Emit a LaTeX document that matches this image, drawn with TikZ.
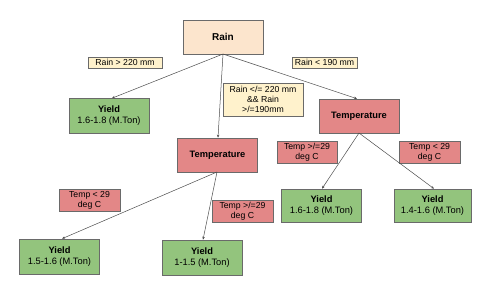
\documentclass[tikz,border=0pt]{standalone}
\usepackage{fontspec}
\setmainfont{Liberation Sans}
\usetikzlibrary{arrows.meta}
\definecolor{peach}{HTML}{FCE5CD}
\definecolor{leaf}{HTML}{93C47D}
\definecolor{rose}{HTML}{E38787}
\definecolor{note}{HTML}{FFF2CC}
\definecolor{edge}{HTML}{6A6A6A}
\begin{document}
\begin{tikzpicture}[x=1pt,y=-1pt,
  box/.style={draw=edge, line width=0.6pt, inner sep=0pt, align=center, font=\fontsize{9.3}{11}\selectfont},
  rootbox/.style={box, fill=peach, minimum width=80pt, minimum height=34pt, font=\bfseries\fontsize{10}{12}\selectfont},
  tempbox/.style={box, fill=rose, minimum width=80pt, minimum height=34pt, font=\bfseries\fontsize{9.3}{11}\selectfont},
  yieldbox/.style={box, fill=leaf, minimum width=80pt, minimum height=35pt},
  rlabel/.style={box, fill=note, minimum height=11pt, font=\fontsize{8.7}{10}\selectfont},
  tlabel/.style={box, fill=rose, minimum width=61pt, minimum height=22pt, font=\fontsize{8.7}{10}\selectfont},
  link/.style={draw=black!70, line width=0.5pt, -{Stealth[length=3pt,width=2.5pt]}}]
\useasboundingbox (0,0) rectangle (480,284);
\node[rootbox] (rain) at (223,37) {Rain};
\node[yieldbox] (y1) at (109,116) {\textbf{Yield}\\1.6-1.8 (M.Ton)};
\node[tempbox] (tm) at (217.5,155) {Temperature};
\node[tempbox] (tr) at (359,116) {Temperature};
\node[yieldbox] (y2) at (59.5,256.5) {\textbf{Yield}\\1.5-1.6 (M.Ton)};
\node[yieldbox] (y3) at (202,257.5) {\textbf{Yield}\\1-1.5 (M.Ton)};
\node[yieldbox, minimum height=33pt] (y4) at (321.5,205.5) {\textbf{Yield}\\1.6-1.8 (M.Ton)};
\node[yieldbox, minimum width=77pt, minimum height=33pt] (y5) at (432.5,205.5) {\textbf{Yield}\\1.4-1.6 (M.Ton)};
\node[rlabel, minimum width=74pt] (l1) at (125,62.5) {Rain \textgreater{} 220 mm};
\node[rlabel, minimum width=65pt] (l2) at (324.5,62.5) {Rain \textless{} 190 mm};
\node[box, fill=note, minimum width=80pt, minimum height=33pt, font=\fontsize{8.7}{10}\selectfont] (l3) at (263,99.5) {Rain \textless/= 220 mm\\\&\& Rain\\\textgreater/=190mm};
\node[tlabel, minimum width=60pt] (l4) at (307,152) {Temp \textgreater/=29\\deg C};
\node[tlabel] (l5) at (429.5,152) {Temp \textless{} 29\\deg C};
\node[tlabel] (l6) at (89.5,200) {Temp \textless{} 29\\deg C};
\node[tlabel] (l7) at (242.5,211) {Temp \textgreater/=29\\deg C};
\coordinate (rb) at (223,54);
\coordinate (tmb) at (217,172);
\coordinate (trb) at (359,133);
\draw[link] (rb) -- (y1.north -| 112,0);
\draw[link] (rb) -- (tm.north -| 218,0);
\draw[link] (rb) -- (tr.north -| 357,0);
\draw[link] (tmb) -- (y2.north -| 62,0);
\draw[link] (tmb) -- (y3.north -| 203,0);
\draw[link] (trb) -- (y4.north -| 322,0);
\draw[link] (trb) -- (y5.north -| 434,0);
\end{tikzpicture}
\end{document}
